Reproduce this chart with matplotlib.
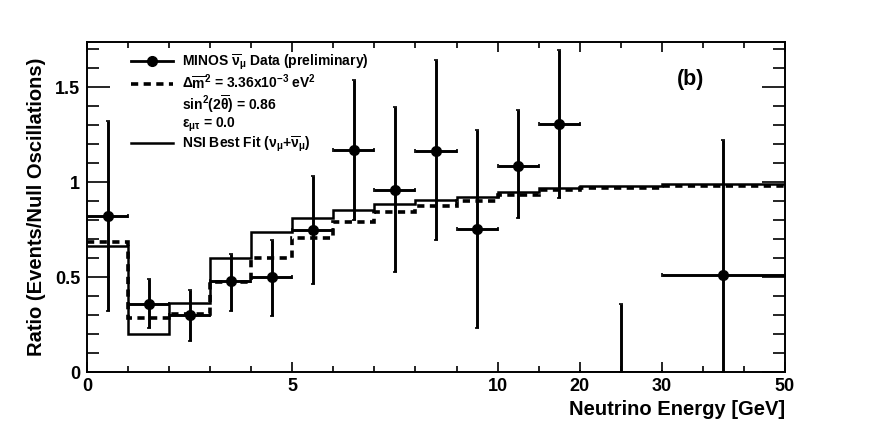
import numpy as np
import matplotlib
matplotlib.use("Agg")
import matplotlib.pyplot as plt
from matplotlib.lines import Line2D

plt.rcParams['font.family'] = ['Liberation Sans', 'DejaVu Sans']
plt.rcParams['font.weight'] = 'bold'
plt.rcParams['mathtext.fontset'] = 'custom'
plt.rcParams['mathtext.rm'] = 'Liberation Sans:bold'
plt.rcParams['mathtext.it'] = 'Liberation Sans'
plt.rcParams['mathtext.bf'] = 'Liberation Sans:bold'

# bin edges in GeV (axis is drawn with equal width per bin-ish piece)
bin_edges = [0, 1, 2, 3, 4, 5, 6, 7, 8, 9, 10, 15, 20, 30, 50]
bin_centers = [0.5, 1.5, 2.5, 3.5, 4.5, 5.5, 6.5, 7.5, 8.5, 9.5, 12.5, 17.5, 25, 40]

# MINOS antineutrino data
data_ratio = [0.82, 0.36, 0.30, 0.48, 0.50, 0.745, 1.17, 0.96, 1.163, 0.755, 1.083, 1.307, 0.0, 0.51]
err_up = [0.50, 0.13, 0.13, 0.14, 0.195, 0.285, 0.365, 0.435, 0.48, 0.52, 0.295, 0.39, 0.36, 0.71]
err_dn = [0.50, 0.13, 0.135, 0.16, 0.205, 0.28, 0.37, 0.435, 0.47, 0.525, 0.27, 0.39, 0.0, 0.51]

# oscillation fits
osc_fit = [0.686, 0.286, 0.304, 0.472, 0.602, 0.707, 0.788, 0.84, 0.876, 0.898, 0.93, 0.956, 0.97, 0.977]
nsi_fit = [0.662, 0.202, 0.363, 0.602, 0.735, 0.809, 0.855, 0.886, 0.905, 0.921, 0.946, 0.968, 0.979, 0.99]

# piecewise mapping energy -> axis position
map_E = [0, 10, 15, 20, 30, 50]
map_pos = [0, 10, 11, 12, 14, 17]


def fwd(x):
    return np.interp(x, map_E, map_pos)


def inv(x):
    return np.interp(x, map_pos, map_E)


fig = plt.figure(figsize=(8.72, 4.25), dpi=100)
ax = fig.add_axes([0.0998, 0.1247, 0.8004, 0.7765])
ax.set_xscale('function', functions=(fwd, inv))

ax.stairs(osc_fit, bin_edges, color='k', lw=2.6, ls=(0, (2.0, 1.5)), baseline=None)
ax.stairs(nsi_fit, bin_edges, color='k', lw=1.8, baseline=None)

edges = np.array(bin_edges, dtype=float)
xl = np.array(bin_centers) - edges[:-1]
xr = edges[1:] - np.array(bin_centers)
ax.errorbar(bin_centers, data_ratio, yerr=[err_dn, err_up], xerr=[xl, xr],
            fmt='none', ecolor='k', elinewidth=2.1, capsize=1.5, capthick=1.2,
            clip_on=True)
vals = np.array(data_ratio)
cen = np.array(bin_centers)
ax.plot(cen[vals > 0], vals[vals > 0], 'o', color='k', ms=7)

ax.set_xlim(0, 50)
ax.set_ylim(0, 1.737)

ax.set_xticks([0, 5, 10, 20, 30, 50])
ax.set_xticklabels(['0', '5', '10', '20', '30', '50'])
majors = [0, 5, 10, 12, 14, 17]
minor_pos = [p for p in range(18) if p not in majors]
ax.set_xticks(inv(np.array(minor_pos, dtype=float)), minor=True)
ax.set_yticks([0, 0.5, 1, 1.5])
ax.set_yticklabels(['0', '0.5', '1', '1.5'])
ax.set_yticks(np.arange(0, 1.75, 0.1), minor=True)

ax.tick_params(which='both', direction='in', top=True, right=True, width=1.2,
               labelsize=13)
ax.tick_params(axis='x', which='major', length=7.5, pad=4)
ax.tick_params(axis='x', which='minor', length=4.5)
ax.tick_params(axis='y', which='major', length=16.5, pad=5)
ax.tick_params(axis='y', which='minor', length=8.5)
for s in ax.spines.values():
    s.set_linewidth(1.4)

ax.set_xlabel('Neutrino Energy [GeV]', fontsize=14.5, fontweight='bold',
              loc='right', labelpad=4)
ax.set_ylabel('Ratio (Events/Null Oscillations)', fontsize=14.5,
              fontweight='bold', labelpad=6)

ax.text(0.865, 0.885, '(b)', transform=ax.transAxes, fontsize=15.5,
        fontweight='bold', va='center', ha='center')

handles = [
    Line2D([], [], color='k', lw=2, marker='o', ms=7),
    Line2D([], [], color='k', lw=2.6, ls=(0, (2.0, 1.5))),
    Line2D([], [], color='none'),
    Line2D([], [], color='none'),
    Line2D([], [], color='k', lw=1.8),
]
labels = [
    r'MINOS $\overline{\nu}_{\mu}$ Data (preliminary)',
    r'$\Delta\overline{\mathrm{m}}^{2}$ = 3.36x10$^{-3}$ eV$^{2}$',
    r'sin$^{2}$(2$\overline{\theta}$) = 0.86',
    r'$\varepsilon_{\mu\tau}$ = 0.0',
    r'NSI Best Fit ($\nu_{\mu}$+$\overline{\nu}_{\mu}$)',
]
leg = ax.legend(handles, labels, loc='upper left', bbox_to_anchor=(0.055, 0.985),
                frameon=False, fontsize=10, handlelength=3.0, handletextpad=0.7,
                labelspacing=0.05, borderaxespad=0)

fig.savefig('out.png', dpi=100)
